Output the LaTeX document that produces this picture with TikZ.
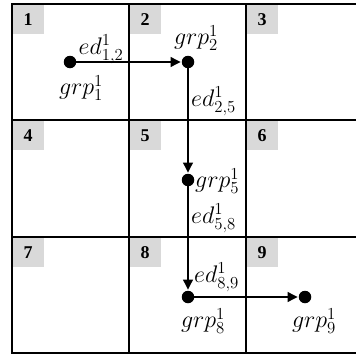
\documentclass[tikz,border=0pt]{standalone}
\usepackage{fix-cm}
\usepackage{fontspec}
\newfontfamily\numfont{Liberation Serif}
\usetikzlibrary{arrows.meta}
\begin{document}
\begin{tikzpicture}[x=1pt,y=-1pt,
  gridline/.style={line width=2pt},
  numbox/.style={fill=black!15, minimum width=32pt, minimum height=30pt,
    inner sep=0pt, anchor=north west, font=\numfont\fontsize{18}{18}\selectfont\bfseries},
  dot/.style={circle, fill=black, minimum size=12.5pt, inner sep=0pt},
  conn/.style={line width=1.1pt, -{Triangle[length=10pt,width=10pt]}, shorten >=1pt},
  lbl/.style={inner sep=0pt, font=\fontsize{24}{28}\selectfont}]
\useasboundingbox (0,0) rectangle (356,356);
\clip (0,0) rectangle (356,356);

% cell number tags
\foreach \i/\x/\y in {1/12/4, 2/129/4, 3/246/4,
                      4/12/120, 5/129/120, 6/246/120,
                      7/12/237, 8/129/237, 9/246/237}
  \node[numbox] (n\i) at (\x,\y) {\i};

% 3x3 grid
\draw[gridline] (12,4) rectangle (363,353);
\draw[gridline] (129,4) -- (129,353) (246,4) -- (246,353)
                (12,120) -- (363,120) (12,237) -- (363,237);

% group nodes
\node[dot] (d1) at (70,62) {};
\node[dot] (d2) at (188,62) {};
\node[dot] (d5) at (188,180) {};
\node[dot] (d8) at (188,297) {};
\node[dot] (d9) at (305,297) {};

% edges
\draw[conn] (d1) -- (d2);
\draw[conn] (d2) -- (d5);
\draw[conn] (d5) -- (d8);
\draw[conn] (d8) -- (d9);

% labels
\node[lbl] (g1) at (81,88) {$grp^1_1$};
\node[lbl] (g2) at (196,38) {$grp^1_2$};
\node[lbl, anchor=west] (g5) at (195,181) {$grp^1_5$};
\node[lbl] (g8) at (203,321) {$grp^1_8$};
\node[lbl] (g9) at (314,321) {$grp^1_9$};
\node[lbl] (e12) at (101,49) {$ed^1_{1,2}$};
\node[lbl, anchor=west] (e25) at (191,101) {$ed^1_{2,5}$};
\node[lbl, anchor=west] (e58) at (191,218) {$ed^1_{5,8}$};
\node[lbl, anchor=west] (e89) at (194,277) {$ed^1_{8,9}$};
\end{tikzpicture}
\end{document}
